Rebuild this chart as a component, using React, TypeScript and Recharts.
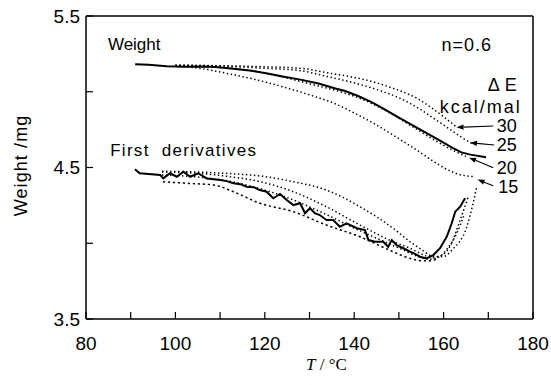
import React from 'react';
import { LineChart, Line, XAxis, YAxis, ReferenceLine, ReferenceDot } from 'recharts';

// ---- data (temperature °C, weight mg) ----
const weightMeasured: [number, number][] = [
  [91, 5.182], [94, 5.178], [98, 5.168], [102, 5.165], [106, 5.166], [109, 5.164], [113, 5.152],
  [117, 5.138], [120, 5.124], [124, 5.1], [128, 5.08], [132, 5.055], [136, 5.02], [138, 5.005],
  [141, 4.97], [144, 4.93], [147, 4.88], [150, 4.83], [153, 4.78], [156, 4.73], [159, 4.68],
  [162, 4.63], [164, 4.6], [166, 4.585], [169.5, 4.567],
];
const weightCalc30: [number, number][] = [
  [100, 5.175], [110, 5.172], [120, 5.165], [128, 5.155], [134, 5.125], [139, 5.1], [143, 5.075],
  [148, 5.03], [154, 4.957], [157, 4.9], [160, 4.835], [163, 4.765],
];
const weightCalc25: [number, number][] = [
  [100, 5.175], [110, 5.17], [120, 5.155], [128, 5.139], [134, 5.1], [139, 5.066], [145, 5.015],
  [150, 4.96], [155, 4.88], [158, 4.82], [161, 4.76], [164, 4.7], [166.5, 4.655],
];
const weightCalc20: [number, number][] = [
  [100, 5.17], [110, 5.16], [118, 5.135], [125, 5.09], [131, 5.045], [138, 4.99], [143, 4.935],
  [148, 4.86], [153, 4.77], [158, 4.68], [162, 4.615], [165.5, 4.567],
];
const weightCalc15: [number, number][] = [
  [100, 5.172], [104, 5.16], [108, 5.142], [112, 5.118], [117, 5.087], [124, 5.033], [131, 4.97],
  [135, 4.93], [140, 4.86], [145, 4.78], [150, 4.69], [154, 4.615], [158, 4.535], [162, 4.47],
  [165, 4.445], [167, 4.44],
];
const derivMeasured: [number, number][] = [
  [90.96, 4.488], [92, 4.462], [96.6, 4.45], [97.3, 4.428], [98.8, 4.462], [100.3, 4.439],
  [101.8, 4.472], [103.3, 4.439], [105.1, 4.462], [107, 4.428], [110, 4.418], [111.5, 4.41],
  [112.95, 4.396], [114.5, 4.39], [115.95, 4.373], [117.5, 4.37], [118.9, 4.351], [120.4, 4.34],
  [121.9, 4.297], [123.4, 4.325], [124.9, 4.285], [126.4, 4.252], [127.9, 4.264], [129, 4.198],
  [130.1, 4.231], [131.2, 4.198], [132.3, 4.186], [133.8, 4.153], [135.3, 4.153], [136.8, 4.109],
  [138.3, 4.132], [140.6, 4.099], [142.4, 4.087], [143.2, 4.021], [144.7, 4.01], [146.5, 4.01],
  [147.6, 3.977], [148.4, 4.021], [149.5, 3.988], [151, 3.967], [152.5, 3.944], [153.6, 3.93],
  [154.7, 3.911], [156.2, 3.9], [157.7, 3.922], [159.2, 3.967], [160.7, 4.043], [161.8, 4.13],
  [162.6, 4.208], [163.7, 4.241], [164.8, 4.297],
];
const derivCalc30: [number, number][] = [
  [97, 4.475], [105, 4.47], [112, 4.46], [119, 4.444], [126.4, 4.406], [133.8, 4.351], [141.3, 4.241],
  [148.7, 4.099], [152.5, 4.01], [155, 3.96], [157.5, 3.915], [159.9, 3.911], [162, 3.96],
  [165.2, 4.109], [166.6, 4.264], [167.4, 4.373],
];
const derivCalc25: [number, number][] = [
  [97, 4.47], [105, 4.462], [112, 4.44], [119, 4.406], [126.4, 4.34], [133.8, 4.241], [141.3, 4.12],
  [148.7, 4.01], [152.5, 3.967], [155, 3.93], [157.5, 3.905], [159.5, 3.92], [161.4, 3.977],
  [163.7, 4.153], [165.5, 4.307],
];
const derivCalc20: [number, number][] = [
  [97, 4.45], [104, 4.44], [112, 4.41], [119, 4.36], [126, 4.29], [133, 4.2], [140, 4.1], [146, 4.02],
  [151, 3.955], [154, 3.915], [157, 3.895], [159, 3.91], [161, 3.97], [163, 4.07], [164.5, 4.18],
];
const derivCalc15: [number, number][] = [
  [97.2, 4.406], [103, 4.395], [108.5, 4.385], [113, 4.34], [118.9, 4.264], [126.4, 4.208],
  [133.8, 4.12], [141.3, 4.043], [148.7, 3.944], [152.5, 3.9], [155, 3.885], [157, 3.885], [158.5, 3.895],
];

const xTicks = [80, 90, 100, 110, 120, 130, 140, 150, 160, 170, 180];
const xTickLabels = [80, 100, 120, 140, 160, 180];
const yTicks = [3.5, 4.0, 4.5, 5.0, 5.5];
const yTickLabels = [3.5, 4.5, 5.5];

// ΔE labels with arrows: [label, labelT, labelW, tailT, tailW, headT, headW]
const deLabels: [string, number, number, number, number, number, number][] = [
  ['30', 171.9, 4.774, 171.1, 4.774, 162.9, 4.765],
  ['25', 171.9, 4.649, 171.3, 4.649, 165.9, 4.663],
  ['20', 171.9, 4.495, 171.1, 4.498, 165.7, 4.565],
  ['15', 172.2, 4.369, 171.1, 4.379, 167.6, 4.42],
];

const toPts = (a: [number, number][]) => a.map(([t, w]) => ({ t, w }));

const FONT = '"Liberation Sans", Arial, sans-serif';

const YTick = (props: any) => {
  const { x, y, payload } = props;
  const v = payload.value;
  return (
    <g>
      <line x1={x} x2={x + 7} y1={y} y2={y} stroke="#000" strokeWidth={1.2} />
      {yTickLabels.includes(v) && (
        <text x={x - 6} y={y} textAnchor="end" dominantBaseline="central" fontSize={19} fontFamily={FONT} fill="#000">
          {v.toFixed(1)}
        </text>
      )}
    </g>
  );
};

const XTick = (props: any) => {
  const { x, y, payload } = props;
  const v = payload.value;
  return (
    <g>
      <line x1={x} x2={x} y1={y} y2={y - 7} stroke="#000" strokeWidth={1.2} />
      {xTickLabels.includes(v) && (
        <text x={x} y={y + 24} textAnchor="middle" dominantBaseline="central" fontSize={19} fontFamily={FONT} fill="#000">
          {v}
        </text>
      )}
    </g>
  );
};

const Arrow = (p: any) => {
  const { x1, y1, x2, y2 } = p;
  const dx = x2 - x1, dy = y2 - y1;
  const len = Math.sqrt(dx * dx + dy * dy) || 1;
  const ux = dx / len, uy = dy / len;
  const L = 7, W = 2.6;
  const bx = x2 - ux * L, by = y2 - uy * L;
  return (
    <g>
      <line x1={x1} y1={y1} x2={bx} y2={by} stroke="#000" strokeWidth={1.1} />
      <polygon
        points={`${x2},${y2} ${bx - uy * W},${by + ux * W} ${bx + uy * W},${by - ux * W}`}
        fill="#000"
      />
    </g>
  );
};

const textShape = (txt: string, anchor: string, size: number, spacing = 0, wordSpacing = 0) => (p: any) => (
  <text
    x={p.cx}
    y={p.cy}
    textAnchor={anchor}
    dominantBaseline="central"
    fontSize={size}
    fontFamily={FONT}
    letterSpacing={spacing}
    wordSpacing={wordSpacing}
    fill="#000"
  >
    {txt}
  </text>
);

const dotted = { stroke: '#000', strokeWidth: 1.5, strokeDasharray: '1.4 2.6', dot: false, isAnimationActive: false } as const;

export default function App() {
  return (
    <div style={{ position: 'absolute', left: 0, top: 0, width: 551, height: 385, background: '#fff' }}>
      <LineChart width={551} height={385} margin={{ top: 16, right: 18, left: 0, bottom: 0 }}>
        <XAxis
          type="number"
          dataKey="t"
          domain={[80, 180]}
          ticks={xTicks}
          tickSize={0}
          tickMargin={0}
          tickLine={false}
          tick={<XTick />}
          height={66}
          axisLine={{ stroke: '#000', strokeWidth: 1.5 }}
          allowDataOverflow
          label={{
            content: (p: any) => {
              const vb = p.viewBox;
              return (
                <text
                  x={vb.x + vb.width / 2 + 17}
                  y={vb.y + 45}
                  textAnchor="middle"
                  dominantBaseline="central"
                  fontSize={17}
                  fontFamily='"Liberation Serif", "Times New Roman", serif'
                  fill="#000"
                >
                  <tspan fontStyle="italic">T</tspan> / °C
                </text>
              );
            },
          }}
        />
        <YAxis
          type="number"
          dataKey="w"
          domain={[3.5, 5.5]}
          ticks={yTicks}
          tickSize={0}
          tickMargin={0}
          tickLine={false}
          tick={<YTick />}
          width={86}
          axisLine={{ stroke: '#000', strokeWidth: 1.5 }}
          allowDataOverflow
          label={{
            content: (p: any) => {
              const vb = p.viewBox;
              const cx = vb.x + 21;
              const cy = vb.y + vb.height / 2 - 2;
              return (
                <text
                  x={cx}
                  y={cy}
                  transform={`rotate(-90 ${cx} ${cy})`}
                  textAnchor="middle"
                  dominantBaseline="central"
                  fontSize={18}
                  letterSpacing={1.1}
                  fontFamily={FONT}
                  fill="#000"
                >
                  Weight /mg
                </text>
              );
            },
          }}
        />
        <ReferenceLine y={5.5} stroke="#000" strokeWidth={1.5} />
        <ReferenceLine x={180} stroke="#000" strokeWidth={1.5} />

        <Line data={toPts(weightCalc30)} dataKey="w" type="monotone" {...dotted} />
        <Line data={toPts(weightCalc25)} dataKey="w" type="monotone" {...dotted} />
        <Line data={toPts(weightCalc20)} dataKey="w" type="monotone" {...dotted} />
        <Line data={toPts(weightCalc15)} dataKey="w" type="monotone" {...dotted} />
        <Line data={toPts(weightMeasured)} dataKey="w" type="linear" stroke="#000" strokeWidth={2} dot={false} isAnimationActive={false} />

        <Line data={toPts(derivCalc30)} dataKey="w" type="monotone" {...dotted} />
        <Line data={toPts(derivCalc25)} dataKey="w" type="monotone" {...dotted} />
        <Line data={toPts(derivCalc20)} dataKey="w" type="monotone" {...dotted} />
        <Line data={toPts(derivCalc15)} dataKey="w" type="monotone" {...dotted} strokeDasharray="2.2 2.8" />
        <Line data={toPts(derivMeasured)} dataKey="w" type="linear" stroke="#000" strokeWidth={2} dot={false} isAnimationActive={false} />

        <ReferenceDot x={84.9} y={5.309} r={0} shape={textShape('Weight', 'start', 17)} />
        <ReferenceDot x={85.4} y={4.615} r={0} shape={textShape('First derivatives', 'start', 17, 1.3, 6)} />
        <ReferenceDot x={165.2} y={5.309} r={0} shape={textShape('n=0.6', 'middle', 18, 1)} />
        <ReferenceDot x={173.2} y={5.045} r={0} shape={textShape('Δ E', 'middle', 18, 0.5)} />
        <ReferenceDot x={168.3} y={4.901} r={0} shape={textShape('kcal/mal', 'middle', 18, 2)} />

        {deLabels.map(([lab, lt, lw, tt, tw, ht, hw]) => (
          <ReferenceLine
            key={'a' + lab}
            segment={[{ x: tt, y: tw }, { x: ht, y: hw }]}
            shape={Arrow}
          />
        ))}
        {deLabels.map(([lab, lt, lw]) => (
          <ReferenceDot key={'t' + lab} x={lt} y={lw} r={0} shape={textShape(lab, 'start', 18)} />
        ))}
      </LineChart>
    </div>
  );
}
